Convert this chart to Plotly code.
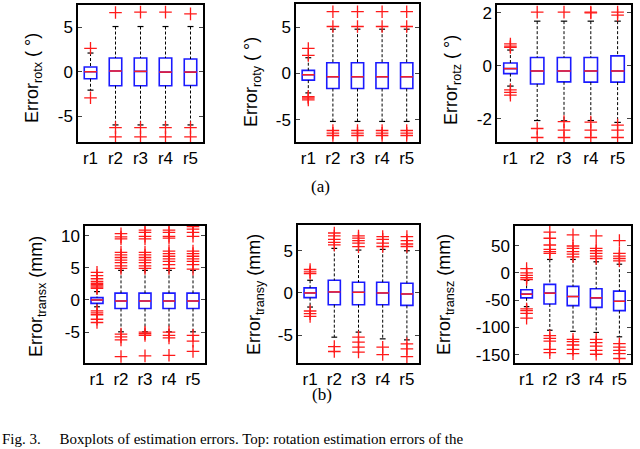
import plotly.graph_objects as go

RUNS = ["r1", "r2", "r3", "r4", "r5"]

# rotation x (deg)
ROTX_Q1 = [-0.79, -1.58, -1.58, -1.58, -1.55]
ROTX_MED = [0.0, 0.08, 0.04, -0.04, -0.04]
ROTX_Q3 = [0.53, 1.54, 1.54, 1.54, 1.43]
ROTX_LO = [-2.07, -5.98, -5.98, -5.98, -5.98]
ROTX_HI = [2.1, 5.08, 5.08, 5.08, 5.08]
ROTX_OUT = [[2.63, -2.93], [6.65, -6.28, -7.33], [6.7, -6.28, -7.33],
            [6.7, -6.28, -7.33], [6.5, -6.28, -7.33]]

# rotation y (deg)
ROTY_Q1 = [-0.72, -1.63, -1.63, -1.63, -1.63]
ROTY_MED = [-0.14, -0.36, -0.36, -0.36, -0.36]
ROTY_Q3 = [0.33, 1.16, 1.16, 1.16, 1.16]
ROTY_LO = [-2.1, -5.18, -5.18, -5.18, -5.18]
ROTY_HI = [1.7, 4.78, 4.78, 4.78, 4.78]
ROTY_OUT = [[2.7, 1.95, -2.5, -2.65, -2.85],
            [6.67, 5.07, -6.16, -6.45, -6.7], [6.67, 5.07, -6.16, -6.45, -6.7],
            [6.67, 5.07, -6.16, -6.45, -6.7], [6.67, 5.07, -6.16, -6.45, -6.7]]

# rotation z (deg)
ROTZ_Q1 = [-0.29, -0.68, -0.6, -0.61, -0.61]
ROTZ_MED = [-0.1, -0.19, -0.19, -0.19, -0.19]
ROTZ_Q3 = [0.11, 0.32, 0.32, 0.32, 0.38]
ROTZ_LO = [-0.76, -2.06, -2.07, -2.06, -2.13]
ROTZ_HI = [0.6, 1.69, 1.69, 1.69, 1.69]
ROTZ_OUT = [[0.83, 0.75, 0.7, -0.9, -1.0, -1.1],
            [2.03, -2.36, -2.7], [2.03, -2.1, -2.42, -2.7],
            [2.03, 2.0, -2.12, -2.42, -2.7], [2.03, 1.92, -2.23, -2.42, -2.7]]

# translation x (mm)
TRX_Q1 = [-0.53, -1.33, -1.33, -1.33, -1.33]
TRX_MED = [0.0, -0.16, -0.16, -0.16, -0.16]
TRX_Q3 = [0.37, 1.06, 1.06, 1.06, 1.06]
TRX_LO = [-1.06, -4.95, -4.95, -4.95, -4.95]
TRX_HI = [1.3, 4.6, 4.6, 4.6, 4.6]
TRX_OUT = [[4.3, 3.8, 3.3, 2.9, 2.6, 2.4, 2.2, 2.0, 1.8, -1.7, -2.0, -2.3, -3.0, -3.5],
           [10.3, 9.8, 9.5, 7.4, 7.0, 6.6, 6.2, 5.8, 5.3, 4.9, -5.3, -5.75, -6.2, -8.8],
           [10.85, 10.5, 9.9, 9.5, 7.4, 7.0, 6.6, 6.2, 5.8, 5.3, 4.9, -5.0, -5.25, -5.5, -8.7],
           [10.85, 10.5, 9.9, 9.6, 7.6, 7.2, 6.8, 6.4, 6.0, 5.5, 4.9, -5.0, -5.5, -5.9, -8.6],
           [11.4, 11.0, 10.5, 9.9, 7.6, 7.2, 6.8, 6.4, 6.0, 5.5, 4.8, -5.5, -6.4, -8.0]]

# translation y (mm)
TRY_Q1 = [-0.56, -1.39, -1.39, -1.39, -1.47]
TRY_MED = [0.0, 0.12, 0.08, 0.0, -0.12]
TRY_Q3 = [0.6, 1.5, 1.27, 1.27, 1.15]
TRY_LO = [-1.67, -5.24, -4.64, -5.44, -5.56]
TRY_HI = [1.5, 5.28, 5.08, 5.16, 5.0]
TRY_OUT = [[2.78, 2.5, 2.3, -2.14, -2.46, -2.78],
           [7.1, 6.75, 6.35, 6.0, 5.7, -6.35, -6.94],
           [6.75, 6.5, 6.2, 5.9, 5.48, -5.24, -5.83, -6.43, -7.0],
           [6.67, 6.35, 5.9, 5.5, -6.43, -7.3],
           [6.67, 6.2, 5.8, 5.5, -6.03, -6.63, -7.54]]

# translation z (mm)
TRZ_Q1 = [-45.7, -56.8, -59.9, -63.0, -69.0]
TRZ_MED = [-38.9, -37.0, -43.2, -45.7, -51.9]
TRZ_Q3 = [-30.9, -21.0, -24.7, -29.0, -33.3]
TRZ_LO = [-61.7, -105.0, -107.0, -109.0, -117.0]
TRZ_HI = [-13.6, 24.7, 24.7, 20.4, 16.0]
TRZ_OUT = [[8.0, 0.0, -4.3, -8.6, -12.0, -66.0, -69.0, -74.0, -82.7],
           [74.7, 63.6, 51.2, 43.2, 38.9, 35.8, -115.0, -120.0, -125.0, -140.0, -146.0],
           [69.8, 49.4, 45.0, 38.9, 34.6, 29.6, -121.6, -126.0, -132.0, -140.0, -148.0],
           [67.9, 45.0, 40.7, 35.8, 30.9, 26.5, -121.6, -127.7, -133.9, -141.9, -149.0],
           [59.3, 35.8, 30.9, 26.5, 22.2, -129.6, -135.8, -141.9, -148.0, -156.8]]

PANELS = [
    dict(q1=ROTX_Q1, med=ROTX_MED, q3=ROTX_Q3, lo=ROTX_LO, hi=ROTX_HI, out=ROTX_OUT,
         title="Error<sub>rotx</sub> ( °)", ticks=[-5, 0, 5], yr=[-7.9, 7.5],
         px=(78, 203, 5, 142), tpos=(33, 78)),
    dict(q1=ROTY_Q1, med=ROTY_MED, q3=ROTY_Q3, lo=ROTY_LO, hi=ROTY_HI, out=ROTY_OUT,
         title="Error<sub>roty</sub> ( °)", ticks=[-5, 0, 5], yr=[-7.4, 7.5],
         px=(296, 419, 4, 142), tpos=(253, 82)),
    dict(q1=ROTZ_Q1, med=ROTZ_MED, q3=ROTZ_Q3, lo=ROTZ_LO, hi=ROTZ_HI, out=ROTZ_OUT,
         title="Error<sub>rotz</sub> ( °)", ticks=[-2, 0, 2], yr=[-2.87, 2.3],
         px=(497, 631, 5, 142), tpos=(453, 80)),
    dict(q1=TRX_Q1, med=TRX_MED, q3=TRX_Q3, lo=TRX_LO, hi=TRX_HI, out=TRX_OUT,
         title="Error<sub>transx</sub> (mm)", ticks=[-5, 0, 5, 10], yr=[-9.8, 11.5],
         px=(85, 205, 226, 363), tpos=(37, 297)),
    dict(q1=TRY_Q1, med=TRY_MED, q3=TRY_Q3, lo=TRY_LO, hi=TRY_HI, out=TRY_OUT,
         title="Error<sub>transy</sub> (mm)", ticks=[-5, 0, 5], yr=[-8.3, 8.05],
         px=(298, 419, 225, 363), tpos=(255, 295)),
    dict(q1=TRZ_Q1, med=TRZ_MED, q3=TRZ_Q3, lo=TRZ_LO, hi=TRZ_HI, out=TRZ_OUT,
         title="Error<sub>transz</sub> (mm)", ticks=[-150, -100, -50, 0, 50], yr=[-165, 86],
         px=(515, 631, 226, 363), tpos=(445, 295)),
]

W, H = 640, 449
FONT = "Liberation Sans, Arial, sans-serif"
SERIF = "Liberation Serif, Times New Roman, serif"
HALF_BOX = 0.25
HALF_CAP = 0.12


def fx(px):
    return px / W


def fy(py):
    return 1 - py / H


fig = go.Figure()
layout = {}
annotations = []

for k, p in enumerate(PANELS):
    n = "" if k == 0 else str(k + 1)
    xa, ya = "x" + n, "y" + n
    xs = list(range(1, len(RUNS) + 1))

    wx, wy, cx, cy, mx, my, ox, oy = [], [], [], [], [], [], [], []
    for i, x in enumerate(xs):
        wx += [x, x, None, x, x, None]
        wy += [p["hi"][i], p["q3"][i], None, p["q1"][i], p["lo"][i], None]
        cx += [x - HALF_CAP, x + HALF_CAP, None, x - HALF_CAP, x + HALF_CAP, None]
        cy += [p["hi"][i], p["hi"][i], None, p["lo"][i], p["lo"][i], None]
        mx += [x - HALF_BOX, x + HALF_BOX, None]
        my += [p["med"][i], p["med"][i], None]
        ox += [x] * len(p["out"][i])
        oy += p["out"][i]

    fig.add_trace(go.Scatter(x=wx, y=wy, mode="lines", xaxis=xa, yaxis=ya,
                             line=dict(color="black", width=1, dash="3px,2px")))
    fig.add_trace(go.Scatter(x=cx, y=cy, mode="lines", xaxis=xa, yaxis=ya,
                             line=dict(color="black", width=1.2)))
    fig.add_trace(go.Box(x=xs, q1=p["q1"], median=p["med"], q3=p["q3"],
                         lowerfence=p["q1"], upperfence=p["q3"], width=2 * HALF_BOX,
                         boxpoints=False, xaxis=xa, yaxis=ya,
                         line=dict(color="#1a1aff", width=1.6), fillcolor="rgba(0,0,0,0)"))
    fig.add_trace(go.Scatter(x=mx, y=my, mode="lines", xaxis=xa, yaxis=ya,
                             line=dict(color="#ff2020", width=1.5)))
    fig.add_trace(go.Scatter(x=ox, y=oy, mode="markers", xaxis=xa, yaxis=ya,
                             marker=dict(symbol="cross-thin", size=9,
                                         line=dict(color="#ff1a1a", width=1.3))))

    x0, x1, y0, y1 = p["px"]
    axis_common = dict(showline=True, linecolor="black", linewidth=1.5, mirror=True,
                       showgrid=False, zeroline=False, automargin=False,
                       ticklabeloverflow="allow",
                       tickfont=dict(family=FONT, size=17, color="black"))
    layout["xaxis" + n] = dict(axis_common, domain=[fx(x0), fx(x1)], anchor=ya,
                               range=[0.5, 5.5], tickvals=xs, ticktext=RUNS, ticks="")
    layout["yaxis" + n] = dict(axis_common, domain=[fy(y1), fy(y0)], anchor=xa,
                               range=p["yr"], tickvals=p["ticks"],
                               ticktext=[str(t) for t in p["ticks"]],
                               ticks="inside", ticklen=4, mirror="ticks")
    tx, ty = p["tpos"]
    annotations.append(dict(text=p["title"], x=fx(tx), y=fy(ty), xref="paper", yref="paper",
                            textangle=-90, showarrow=False, xanchor="center", yanchor="middle",
                            font=dict(family=FONT, size=18, color="black")))

annotations.append(dict(text="(a)", x=fx(320), y=fy(186), xref="paper", yref="paper",
                        showarrow=False, font=dict(family=SERIF, size=17, color="black")))
annotations.append(dict(text="(b)", x=fx(322), y=fy(406), xref="paper", yref="paper",
                        showarrow=False, font=dict(family=SERIF, size=17, color="black")))
annotations.append(dict(text="Fig. 3.     Boxplots of estimation errors. Top: rotation estimation errors of the",
                        x=0, y=0, xref="paper", yref="paper", xanchor="left", yanchor="bottom",
                        showarrow=False, font=dict(family=SERIF, size=15, color="black")))

fig.update_layout(**layout)
fig.update_layout(width=W, height=H, margin=dict(l=0, r=0, t=0, b=0),
                  paper_bgcolor="white", plot_bgcolor="white", showlegend=False,
                  annotations=annotations)

# drop the browser's default 8px body margin so the figure fills the window
fig.write_html("out.html", config={"displayModeBar": False},
               post_script="document.body.style.margin='0';")
